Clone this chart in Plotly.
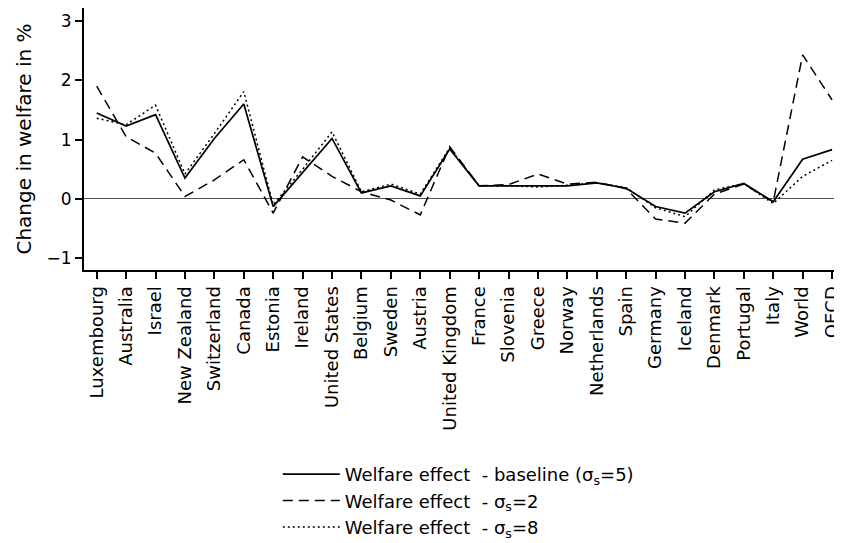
import plotly.graph_objs as go

countries = ['Luxembourg', 'Australia', 'Israel', 'New Zealand', 'Switzerland', 'Canada',
             'Estonia', 'Ireland', 'United States', 'Belgium', 'Sweden', 'Austria',
             'United Kingdom', 'France', 'Slovenia', 'Greece', 'Norway', 'Netherlands',
             'Spain', 'Germany', 'Iceland', 'Denmark', 'Portugal', 'Italy', 'World', 'OECD']

# welfare effect in %
baseline = [1.45, 1.23, 1.42, 0.35, 1.02, 1.60, -0.13, 0.45, 1.02, 0.10, 0.22, 0.05,
            0.84, 0.22, 0.22, 0.22, 0.22, 0.27, 0.18, -0.13, -0.24, 0.12, 0.26, -0.05,
            0.67, 0.83]
sigma2 = [1.90, 1.05, 0.77, 0.04, 0.32, 0.66, -0.24, 0.71, 0.38, 0.12, -0.02, -0.27,
          0.88, 0.22, 0.24, 0.42, 0.25, 0.28, 0.17, -0.34, -0.41, 0.08, 0.25, -0.05,
          2.43, 1.67]
sigma8 = [1.36, 1.25, 1.58, 0.42, 1.10, 1.81, -0.10, 0.50, 1.13, 0.12, 0.25, 0.08,
          0.86, 0.22, 0.22, 0.20, 0.23, 0.27, 0.19, -0.15, -0.30, 0.15, 0.26, -0.08,
          0.38, 0.65]

names = ['Welfare effect&nbsp; - baseline (σ<sub>s</sub>=5)',
         'Welfare effect&nbsp; - σ<sub>s</sub>=2',
         'Welfare effect&nbsp; - σ<sub>s</sub>=8']

fig = go.Figure()
for vals, name, dash, w in [(baseline, names[0], 'solid', 1.7),
                            (sigma2, names[1], '10px,6px', 1.5),
                            (sigma8, names[2], '2px,3px', 1.5)]:
    fig.add_trace(go.Scatter(x = list(range(len(countries))), y = vals, mode = 'lines', name = name,
                             line = dict(color = 'black', dash = dash, width = w)))

# the page body adds an 8px offset, so margins are shifted by that much
fig.update_layout(width = 842, height = 543, template = 'plotly_white',
                  plot_bgcolor = 'white', paper_bgcolor = 'white',
                  font = dict(family = 'DejaVu Sans, Arial', size = 18, color = 'black'),
                  margin = dict(t = 0, b = 281, l = 76, r = 0),
                  legend = dict(x = 0.253, y = -0.71, xanchor = 'left', yanchor = 'top',
                                font = dict(size = 18), tracegroupgap = 0, itemwidth = 57,
                                bgcolor = 'rgba(0,0,0,0)'))

fig.update_xaxes(range = [-0.432, 25.61], tickvals = list(range(len(countries))),
                 ticktext = countries, tickangle = -90, ticks = 'outside', ticklen = 7,
                 tickwidth = 1.5, tickcolor = 'black', showgrid = False, showline = True,
                 linecolor = 'black', linewidth = 2, mirror = True, zeroline = False,
                 automargin = False, ticklabeloverflow = 'allow', tickfont = dict(size = 18))
fig.update_yaxes(range = [-1.2, 3.22], tickvals = [-1, 0, 1, 2, 3], ticks = 'outside',
                 ticklen = 7, tickwidth = 1.5, tickcolor = 'black', showgrid = False,
                 showline = True, linecolor = 'black', linewidth = 2, zeroline = True,
                 zerolinecolor = '#555555', zerolinewidth = 1.3, automargin = False,
                 title = dict(text = 'Change in welfare in %', font = dict(size = 20), standoff = 10),
                 tickfont = dict(size = 17))

fig.write_html("out.html")
